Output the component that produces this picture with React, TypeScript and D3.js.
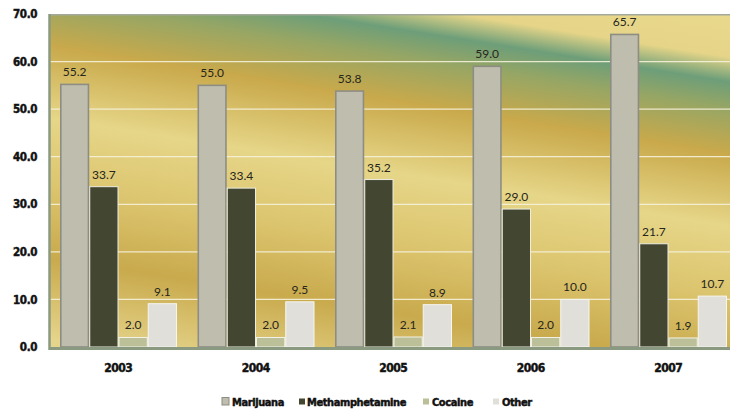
import { scaleBand, scaleLinear } from "d3";
import type { ReactElement } from "react";

const years = ["2003", "2004", "2005", "2006", "2007"];
const seriesNames = ["Marijuana", "Methamphetamine", "Cocaine", "Other"];
const marijuana = [55.2, 55.0, 53.8, 59.0, 65.7];
const meth = [33.7, 33.4, 35.2, 29.0, 21.7];
const cocaine = [2.0, 2.0, 2.1, 2.0, 1.9];
const other = [9.1, 9.5, 8.9, 10.0, 10.7];
const yTicks = [0, 10, 20, 30, 40, 50, 60, 70];

const seriesValues = [marijuana, meth, cocaine, other];
const fills = ["#bfbdae", "#434630", "#bcc099", "#e0dfd9"];
const strokes = ["#8e8d83", "#eeede2", "#f2f1e6", "#f6f6f1"];
const strokeWidths = [1.6, 1, 1, 1];

const W = 730;
const H = 412;
const LEFT = 49.5;
const RIGHT = 737;
const TOP = 14;
const BOTTOM = 347;

const condensed = "'DejaVu Sans Condensed', 'DejaVu Sans', sans-serif";

// legend slots
const legendSwatchX = [222, 299, 423, 493];
const legendTextX = [232, 307, 432, 502];

export default function App(): ReactElement {
  const x0 = scaleBand<string>().domain(years).range([LEFT, RIGHT]);
  const x1 = scaleBand<string>().domain(seriesNames).range([10.5, 127.5]);
  const y = scaleLinear().domain([0, 70]).range([BOTTOM, TOP]);

  // heavy, slightly smeared look of the axis text
  const boldText = { stroke: "#111", strokeWidth: 0.45, fill: "#111" };

  return (
    <svg
      width={W}
      height={H}
      viewBox={`0 0 ${W} ${H}`}
      style={{ position: "absolute", left: 0, top: 0, background: "#fff" }}
    >
      <defs>
        <linearGradient
          id="bg"
          gradientUnits="userSpaceOnUse"
          x1={640}
          y1={0}
          x2={570}
          y2={440}
        >
          <stop offset="0" stopColor="#e9d98d" />
          <stop offset="0.095" stopColor="#e6d588" />
          <stop offset="0.15" stopColor="#6d9e79" />
          <stop offset="0.21" stopColor="#97a664" />
          <stop offset="0.31" stopColor="#c9a94b" />
          <stop offset="0.47" stopColor="#e6d688" />
          <stop offset="0.62" stopColor="#dcc56f" />
          <stop offset="0.78" stopColor="#c9aa4d" />
          <stop offset="0.96" stopColor="#e5d48b" />
        </linearGradient>
        <clipPath id="plot">
          <rect x={LEFT} y={TOP} width={RIGHT - LEFT} height={BOTTOM - TOP} />
        </clipPath>
      </defs>

      {/* plot background */}
      <rect x={LEFT} y={TOP} width={RIGHT - LEFT} height={BOTTOM - TOP} fill="url(#bg)" />

      {/* gridlines */}
      {yTicks
        .filter((t) => t > 0 && t < 70)
        .map((t) => (
          <line
            key={t}
            x1={LEFT}
            x2={RIGHT}
            y1={y(t)}
            y2={y(t)}
            stroke="#f5f1da"
            strokeOpacity={0.9}
            strokeWidth={1.2}
          />
        ))}

      {/* bars */}
      <g clipPath="url(#plot)">
        {years.map((yr, i) => (
          <g key={yr} transform={`translate(${x0(yr)},0)`}>
            {seriesNames.map((s, si) => {
              const v = seriesValues[si][i];
              const bx = x1(s) ?? 0;
              const bw = x1.bandwidth();
              return (
                <rect
                  key={s}
                  x={bx + strokeWidths[si] / 2}
                  y={y(v)}
                  width={bw - strokeWidths[si]}
                  height={BOTTOM - y(v)}
                  fill={fills[si]}
                  stroke={strokes[si]}
                  strokeWidth={strokeWidths[si]}
                />
              );
            })}
          </g>
        ))}
      </g>

      {/* value labels */}
      {years.map((yr, i) =>
        seriesNames.map((s, si) => {
          const v = seriesValues[si][i];
          const cx = (x0(yr) ?? 0) + (x1(s) ?? 0) + x1.bandwidth() / 2;
          return (
            <text
              key={`${yr}-${s}`}
              x={cx}
              y={y(v) - 8}
              textAnchor="middle"
              fontFamily="Lato, 'Open Sans', sans-serif"
              fontSize={12}
              fill="#26261c"
            >
              {v.toFixed(1)}
            </text>
          );
        }),
      )}

      {/* frame */}
      <line x1={LEFT} x2={W} y1={TOP + 0.75} y2={TOP + 0.75} stroke="#a3aa9b" strokeWidth={1.5} />
      <line x1={LEFT} x2={LEFT} y1={TOP} y2={BOTTOM + 3} stroke="#8a9a80" strokeWidth={2.5} />
      <line x1={LEFT} x2={W} y1={BOTTOM + 1.5} y2={BOTTOM + 1.5} stroke="#8a9a80" strokeWidth={3} />

      {/* y axis labels */}
      {yTicks.map((t) => (
        <text
          key={t}
          x={37}
          y={y(t)}
          dy="0.36em"
          textAnchor="end"
          fontFamily={condensed}
          fontWeight="bold"
          fontSize={11.5}
          letterSpacing={-0.4}
          {...boldText}
        >
          {t.toFixed(1)}
        </text>
      ))}

      {/* x axis labels */}
      {years.map((yr) => (
        <text
          key={yr}
          x={(x0(yr) ?? 0) + x0.bandwidth() / 2}
          y={372}
          textAnchor="middle"
          fontFamily={condensed}
          fontWeight="bold"
          fontSize={12}
          letterSpacing={-0.5}
          {...boldText}
        >
          {yr}
        </text>
      ))}

      {/* legend */}
      {seriesNames.map((s, si) => (
        <g key={s}>
          <rect
            x={legendSwatchX[si]}
            y={si === 0 ? 397.5 : 398.5}
            width={si === 0 ? 7 : 6}
            height={si === 0 ? 7.5 : 6}
            fill={fills[si]}
            stroke={si === 0 ? "#8e8d83" : "none"}
            strokeWidth={1}
          />
          <text
            x={legendTextX[si]}
            y={405.5}
            fontFamily={condensed}
            fontWeight="bold"
            fontSize={11}
            letterSpacing={-0.4}
            {...boldText}
          >
            {s}
          </text>
        </g>
      ))}
    </svg>
  );
}
